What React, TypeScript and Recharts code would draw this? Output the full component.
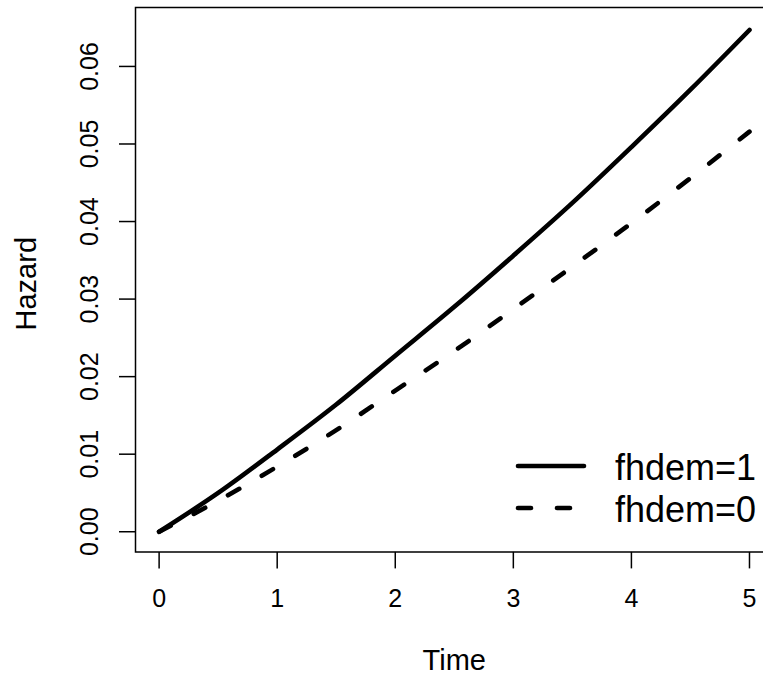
import React from 'react';
import { LineChart, Line, XAxis, YAxis, ReferenceArea, Legend } from 'recharts';

// time points and hazard values
const times = [0, 0.5, 1, 1.5, 2, 2.5, 3, 3.5, 4, 4.5, 5];
const hazardFhdem1 = [0, 0.005, 0.0106, 0.0164, 0.0227, 0.029, 0.0356, 0.0424, 0.0496, 0.057, 0.0647];
const hazardFhdem0 = [0, 0.004, 0.0084, 0.0131, 0.0182, 0.0233, 0.0287, 0.0342, 0.0398, 0.0456, 0.0516];
const seriesNames = ['fhdem=1', 'fhdem=0'];

const xTicks = [0, 1, 2, 3, 4, 5];
const yTicks = [0, 0.01, 0.02, 0.03, 0.04, 0.05, 0.06];
const xDomain = [-0.2, 5.2];
const yDomain = [-0.0026, 0.0676];

const data = times.map((t, i) => ({ time: t, fh1: hazardFhdem1[i], fh0: hazardFhdem0[i] }));

const FONT = '"Liberation Sans", Arial, Helvetica, sans-serif';

const YTick = (props: any) => {
  const { x, y, payload } = props;
  return (
    <text
      x={x}
      y={y}
      transform={`rotate(-90 ${x} ${y})`}
      textAnchor="middle"
      fontSize={25}
      fill="#000"
      fontFamily={FONT}
    >
      {Number(payload.value).toFixed(2)}
    </text>
  );
};

const TimeLabel = (props: any) => {
  const vb = props.viewBox;
  return (
    <text x={vb.x + vb.width / 2} y={vb.y + 118} textAnchor="middle" fontSize={29} fill="#000" fontFamily={FONT}>
      Time
    </text>
  );
};

const HazardLabel = (props: any) => {
  const vb = props.viewBox;
  const cx = vb.x + 36;
  const cy = vb.y + vb.height / 2 + 4;
  return (
    <text x={cx} y={cy} transform={`rotate(-90 ${cx} ${cy})`} textAnchor="middle" fontSize={29} fill="#000" fontFamily={FONT}>
      Hazard
    </text>
  );
};

const renderLegend = (props: any) => {
  const payload = [...(props.payload || [])].sort(
    (a: any, b: any) => seriesNames.indexOf(a.value) - seriesNames.indexOf(b.value)
  );
  return (
    <svg width={258} height={90}>
      {payload.map((entry: any, i: number) => {
        const ly = 26 + i * 42;
        return (
          <g key={entry.value}>
            <line
              x1={13}
              x2={79}
              y1={ly}
              y2={ly}
              stroke="#000"
              strokeWidth={4.6}
              strokeLinecap="round"
              strokeDasharray={entry.payload?.strokeDasharray}
            />
            <text x={110} y={ly + 14} fontSize={36} fill="#000" fontFamily={FONT}>
              {entry.value}
            </text>
          </g>
        );
      })}
    </svg>
  );
};

const App = () => {
  return (
    <div style={{ position: 'absolute', left: 0, top: 0, width: 763, height: 677, overflow: 'hidden', background: '#fff' }}>
      <LineChart
        width={780}
        height={677}
        data={data}
        margin={{ top: 7.5, right: 6.9, bottom: 0, left: 0 }}
        style={{ fontFamily: FONT }}
      >
        <ReferenceArea
          x1={xDomain[0]}
          x2={xDomain[1]}
          y1={yDomain[0]}
          y2={yDomain[1]}
          fill="none"
          stroke="#000"
          strokeWidth={1.5}
          ifOverflow="visible"
        />
        <XAxis
          dataKey="time"
          type="number"
          domain={xDomain}
          ticks={xTicks}
          allowDataOverflow
          axisLine={false}
          tickLine={{ stroke: '#000', strokeWidth: 1.5 }}
          tickSize={16.5}
          tickMargin={21}
          height={125.1}
          tick={{ fill: '#000', fontSize: 25, fontFamily: FONT }}
          label={{ value: 'Time', content: TimeLabel }}
        />
        <YAxis
          type="number"
          domain={yDomain}
          ticks={yTicks}
          allowDataOverflow
          axisLine={false}
          tickLine={{ stroke: '#000', strokeWidth: 1.5 }}
          tickSize={16.5}
          tickMargin={21}
          width={135.5}
          tick={<YTick />}
          label={{ value: 'Hazard', content: HazardLabel }}
        />
        <Legend
          layout="horizontal"
          verticalAlign="middle"
          align="center"
          content={renderLegend}
          wrapperStyle={{ left: 505, top: 440, width: 258, height: 90 }}
        />
        <Line
          type="monotone"
          dataKey="fh1"
          name={seriesNames[0]}
          stroke="#000"
          strokeWidth={4.6}
          strokeLinecap="round"
          dot={false}
          activeDot={false}
          isAnimationActive={false}
        />
        <Line
          type="monotone"
          dataKey="fh0"
          name={seriesNames[1]}
          stroke="#000"
          strokeWidth={4.6}
          strokeLinecap="round"
          strokeDasharray="13 26"
          dot={false}
          activeDot={false}
          isAnimationActive={false}
        />
      </LineChart>
    </div>
  );
};

export default App;
